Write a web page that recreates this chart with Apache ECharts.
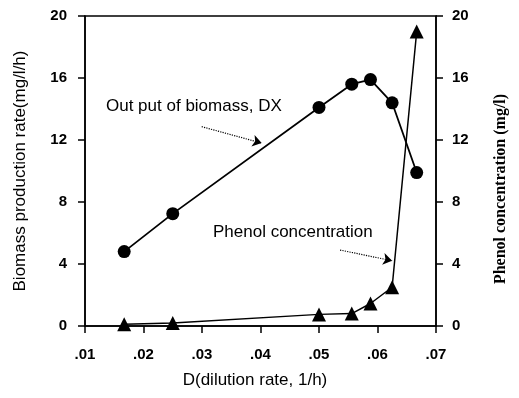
<!DOCTYPE html>
<html>
<head>
<meta charset="utf-8">
<script src="https://cdn.jsdelivr.net/npm/echarts@6/dist/echarts.min.js"></script>
<style>
  html, body { margin: 0; padding: 0; background: #fff; }
  #chart { width: 519px; height: 398px; }
</style>
</head>
<body>
<div id="chart"></div>
<script>
// dilution rate D (1/h)
var dilution = [0.0167, 0.025, 0.05, 0.0556, 0.0588, 0.0625, 0.0667]
// output of biomass DX (mg/l/h)
var biomass = [4.8, 7.25, 14.1, 15.6, 15.9, 14.4, 9.9]
// phenol concentration (mg/l)
var phenol = [0.12, 0.2, 0.75, 0.8, 1.45, 2.5, 19.0]

var font = 'Liberation Sans, Arial, sans-serif'

function pairs (xs, ys) {
  return xs.map(function (x, i) { return [x, ys[i]] })
}

function arrowLine (from, to) {
  return [{ coord: from }, { coord: to }]
}

var chart = echarts.init(document.getElementById('chart'))

var option = {
  animation: false,
  backgroundColor: '#fff',
  grid: {
    left: 85,
    right: 83,
    top: 16,
    bottom: 72,
    show: true,
    borderColor: '#000',
    borderWidth: 1.5
  },
  xAxis: {
    type: 'value',
    min: 0.01,
    max: 0.07,
    interval: 0.01,
    name: 'D(dilution rate, 1/h)',
    nameLocation: 'middle',
    nameGap: 46,
    nameTextStyle: { fontFamily: font, fontSize: 17, color: '#000', padding: [0, 11, 0, 0] },
    axisLine: { lineStyle: { color: '#000', width: 1.5 } },
    axisTick: { inside: false, length: 7, lineStyle: { color: '#000', width: 1.5 } },
    axisLabel: {
      margin: 21,
      fontFamily: font,
      fontSize: 15,
      fontWeight: 'bold',
      color: '#000',
      formatter: function (v) { return v.toFixed(2).replace(/^0/, '') }
    },
    splitLine: { show: false }
  },
  yAxis: [
    {
      type: 'value',
      min: 0,
      max: 20,
      interval: 4,
      position: 'left',
      name: 'Biomass production rate(mg/l/h)',
      nameLocation: 'middle',
      nameGap: 56,
      nameTextStyle: { fontFamily: font, fontSize: 17, color: '#000' },
      axisLine: { show: true, lineStyle: { color: '#000', width: 1.5 } },
      axisTick: { show: true, length: 7, lineStyle: { color: '#000', width: 1.5 } },
      axisLabel: { margin: 18, fontFamily: font, fontSize: 15, fontWeight: 'bold', color: '#000' },
      splitLine: { show: false }
    },
    {
      type: 'value',
      min: 0,
      max: 20,
      interval: 4,
      position: 'right',
      name: 'Phenol concentration (mg/l)',
      nameLocation: 'middle',
      nameGap: 57,
      nameRotate: 90,
      nameTextStyle: { fontFamily: 'Liberation Serif, Times New Roman, serif', fontSize: 16, fontWeight: 'bold', color: '#000', padding: [0, 36, 0, 0] },
      axisLine: { show: true, lineStyle: { color: '#000', width: 1.5 } },
      axisTick: { show: true, length: 7, lineStyle: { color: '#000', width: 1.5 } },
      axisLabel: { margin: 16, fontFamily: font, fontSize: 15, fontWeight: 'bold', color: '#000' },
      splitLine: { show: false }
    }
  ],
  series: [
    {
      name: 'Out put of biomass, DX',
      type: 'line',
      yAxisIndex: 0,
      data: pairs(dilution, biomass),
      symbol: 'circle',
      symbolSize: 13,
      itemStyle: { color: '#000' },
      lineStyle: { color: '#000', width: 1.8 },
      markLine: {
        silent: true,
        symbol: ['none', 'arrow'],
        symbolSize: 9,
        label: { show: false },
        lineStyle: { color: '#000', type: 'dotted', width: 1.2 },
        data: [arrowLine([0.02995, 12.86], [0.0402, 11.8])]
      }
    },
    {
      name: 'Phenol concentration',
      type: 'line',
      yAxisIndex: 1,
      data: pairs(dilution, phenol),
      symbol: 'triangle',
      symbolSize: 14,
      itemStyle: { color: '#000' },
      lineStyle: { color: '#000', width: 1.5 },
      markLine: {
        silent: true,
        symbol: ['none', 'arrow'],
        symbolSize: 9,
        label: { show: false },
        lineStyle: { color: '#000', type: 'dotted', width: 1.2 },
        data: [arrowLine([0.0536, 4.9], [0.0625, 4.21])]
      }
    }
  ],
  graphic: [
    {
      type: 'text',
      left: 106,
      top: 98,
      style: { text: 'Out put of biomass, DX', font: '17px ' + font, fill: '#000' }
    },
    {
      type: 'text',
      left: 213,
      top: 224,
      style: { text: 'Phenol concentration', font: '17px ' + font, fill: '#000' }
    }
  ]
}

chart.setOption(option)
</script>
</body>
</html>
